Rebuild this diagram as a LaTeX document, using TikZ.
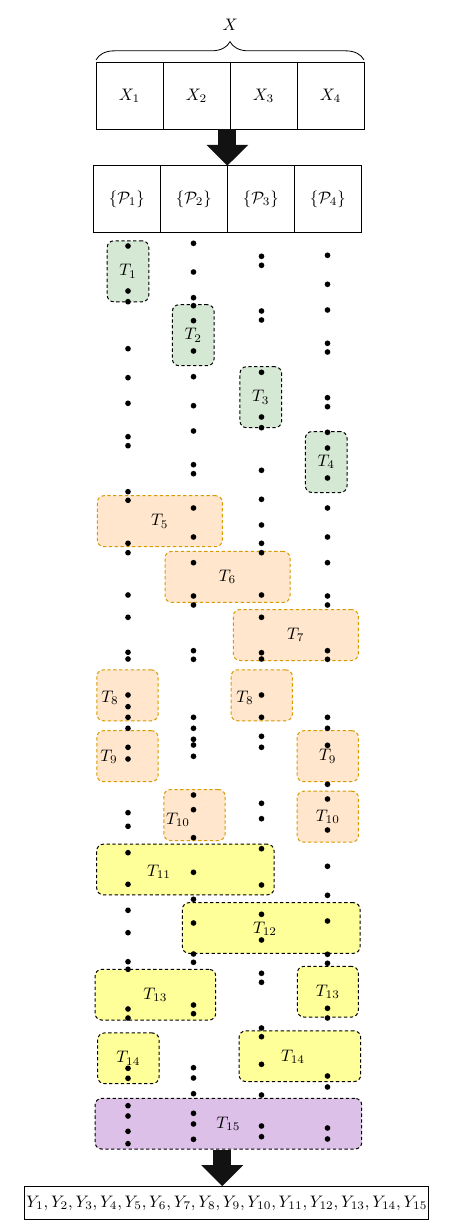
\documentclass[tikz,border=0pt]{standalone}
\usepackage{amsmath, amssymb}
\usepackage{tikz}
\usetikzlibrary{arrows.meta, positioning, decorations.pathreplacing}

\definecolor{greenfill}{HTML}{D5E8D4}
\definecolor{orangefill}{HTML}{FFE6CC}
\definecolor{orangeline}{HTML}{D79B00}
\definecolor{yellowfill}{HTML}{FFFF99}
\definecolor{purplefill}{RGB}{220,192,232}

\begin{document}
\begin{tikzpicture}[
    x=0.6pt, y=-0.6pt,
    cell/.style={rectangle, draw, line width=0.6pt, outer sep=0pt, minimum width=40.2pt, minimum height=39.9pt, align=center},
    task/.style={rectangle, draw, line width=0.6pt, dash pattern=on 2pt off 1.5pt, rounded corners=4pt},
    taskA/.style={task, fill=greenfill, minimum width=25pt, minimum height=36.6pt},
    taskB/.style={task, fill=orangefill, draw=orangeline, minimum height=30.6pt},
    taskC/.style={task, fill=yellowfill, minimum height=30.4pt},
    taskD/.style={task, fill=purplefill, minimum height=30.4pt},
    bigarrow/.style={line width=11pt, draw=black!93, -{Triangle[length=12.6pt, width=24.4pt]}}
]
\useasboundingbox (0,0) rectangle (458,1226);

% Input blocks
\node[cell] (x1) at (129.5,95.9) {$X_1$};
\node[cell, right=0pt of x1] (x2) {$X_2$};
\node[cell, right=0pt of x2] (x3) {$X_3$};
\node[cell, right=0pt of x3] (x4) {$X_4$};
\draw[decorate, decoration={brace, amplitude=11pt}, line width=0.5pt] ([yshift=1.6pt]x1.north west) -- ([yshift=1.6pt]x4.north east);
\node (xall) at (230.2,25) {$X$};

% Partitions
\node[cell] (p1) at (126.8,199) {$\{\mathcal{P}_1\}$};
\node[cell, right=0pt of p1] (p2) {$\{\mathcal{P}_2\}$};
\node[cell, right=0pt of p2] (p3) {$\{\mathcal{P}_3\}$};
\node[cell, right=0pt of p3] (p4) {$\{\mathcal{P}_4\}$};

\draw[bigarrow] (p2.north east |- x2.south) -- (p2.north east);

% Single-column tasks
\node[taskA] (t1) at (128,271.3) {$T_1$};
\node[taskA] (t2) at (193.2,335.2) {$T_2$};
\node[taskA] (t3) at (260.8,397.2) {$T_3$};
\node[taskA] (t4) at (326.2,462) {$T_4$};

% Two-column tasks
\node[taskB, minimum width=75pt] (t5) at (159.8,521.2) {$T_5$};
\node[taskB, minimum width=75pt] (t6) at (227.5,576.9) {$T_6$};
\node[taskB, minimum width=75pt] (t7) at (295.8,635) {$T_7$};

% Split tasks
\node[taskB, minimum width=36.8pt] (t8a) at (127.5,695.3) {};
\node[taskB, minimum width=36.8pt] (t8b) at (261.7,695.3) {};
\node[taskB, minimum width=36.8pt] (t9a) at (127.5,756.2) {};
\node[taskB, minimum width=36.8pt] (t9b) at (327.8,756.2) {$T_9$};
\node[taskB, minimum width=36.8pt] (t10a) at (194.5,815) {};
\node[taskB, minimum width=36.8pt] (t10b) at (327.8,816.7) {$T_{10}$};

\node[taskC, minimum width=106.4pt] (t11) at (185.4,869.5) {};
\node[taskC, minimum width=106.6pt] (t12) at (271.2,928) {};
\node[taskC, minimum width=72.4pt] (t13a) at (155.4,994.7) {$T_{13}$};
\node[taskC, minimum width=36.6pt] (t13b) at (327.8,991.7) {$T_{13}$};
\node[taskC, minimum width=36.8pt] (t14a) at (128.4,1058.3) {$T_{14}$};
\node[taskC, minimum width=73pt] (t14b) at (299.9,1056.2) {};

% Final task
\node[taskD, minimum width=160pt] (t15) at (228.4,1123.7) {$T_{15}$};

% Off-centre labels
\node (l8a) at (110,698) {$T_8$};
\node (l8b) at (245,698) {$T_8$};
\node (l9a) at (109,757) {$T_9$};
\node (l10a) at (178,820) {$T_{10}$};
\node (l11) at (159,872) {$T_{11}$};
\node (l12) at (265,929) {$T_{12}$};
\node (l14b) at (293,1057) {$T_{14}$};

% Samples per column
\foreach \y in {246,291,301.7,348.7,377.7,403.3,436.7,445.7,491.7,500.3,543.3,552.7,595,617.3,652.3,659,695,706.7,717.3,728.3,747.3,759,812.7,826.3,852.7,884.3,910.3,932.7,961.7,969.3,1009,1018,1068.3,1078.3,1105.7,1116,1131.3,1143.7}
    \fill (128,\y) circle (1.7pt);
\foreach \y in {243.3,272,297.7,305.7,320.7,351,376.7,405.7,431,464.7,473.7,508,537,562.7,596,605,650.7,659.3,717.3,728.3,739.3,745,756.3,795,809.7,837.7,872.3,899.3,923,954,962.3,1005,1013.7,1067.7,1078,1093.7,1113.3,1124,1139.3}
    \fill (193.5,\y) circle (1.7pt);
\foreach \y in {256.3,265.3,311,320,372.3,417,427.7,470.3,499.3,525,543.3,552.7,595,617.3,652.7,659,695,717.3,736.3,747.3,803.3,818.7,848.7,885,914.3,940,973.3,982.3,1028,1036.7,1064.3,1095,1126,1136.7}
    \fill (261.5,\y) circle (1.7pt);
\foreach \y in {255.3,284.3,310,343.3,352,397.7,406.7,432.3,448,478,508,537,562.7,596,605,650.7,659.3,717.3,728.3,745.3,784.3,799,830,866.3,895.3,921,954.3,963.3,1008.3,1018,1076,1087,1128,1139}
    \fill (327.5,\y) circle (1.7pt);

% Output
\node[draw, line width=0.6pt, inner xsep=1pt, minimum width=241pt, minimum height=20pt, font=\fontsize{9.6pt}{11pt}\selectfont] (yout) at (226.9,1203.3) {$Y_1, Y_2, Y_3, Y_4, Y_5, Y_6, Y_7, Y_8, Y_9, Y_{10}, Y_{11}, Y_{12}, Y_{13}, Y_{14}, Y_{15}$};

\draw[bigarrow] ([xshift=-3.7pt]t15.south) -- ([xshift=-3.7pt]t15.south |- yout.north);

\end{tikzpicture}
\end{document}
